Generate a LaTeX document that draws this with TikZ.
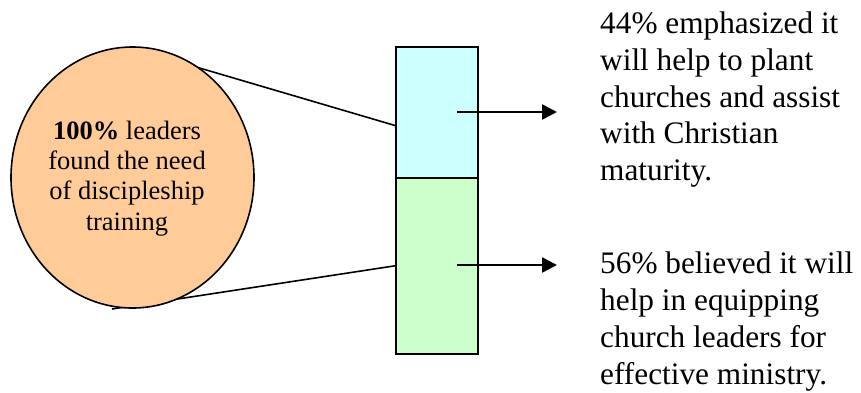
\documentclass[tikz,border=0pt]{standalone}
\usepackage{fontspec}
\setmainfont{Liberation Serif}
\usetikzlibrary{arrows.meta,shapes.geometric}
\definecolor{peach}{HTML}{FFCC99}
\definecolor{lcyan}{HTML}{CCFFFF}
\definecolor{lgreen}{HTML}{CCFFCC}
\tikzset{
  link/.style={draw=black, line width=1.6pt},
  barpart/.style={draw=black, line width=1.6pt, minimum width=82pt, anchor=north west, inner sep=0pt},
  pointer/.style={draw=black, line width=2.4pt, -{Triangle[length=15pt,width=15pt]}},
  sidetext/.style={anchor=base west, align=left, inner sep=0pt, font=\fontsize{31.3}{36.7}\selectfont}
}
\begin{document}
\begin{tikzpicture}[x=1pt,y=-1pt]
\useasboundingbox (0,0) rectangle (861,392);
% bar
\node[barpart, fill=lcyan, minimum height=131pt] (upper) at (395,46) {};
\node[barpart, fill=lgreen, minimum height=176pt] (lower) at (395,177) {};
% connector lines (ellipse drawn over them)
\coordinate (topin) at (170,59.3);
\coordinate (topbar) at (395,125.5);
\coordinate (botin) at (112,309);
\draw[link] (topin) -- (topbar);
\draw[link] (botin) -- (lower.west);
% ellipse
\node[ellipse, draw=black, line width=1.6pt, fill=peach, minimum width=243pt, minimum height=261pt, inner sep=0pt] (circ) at (132.5,177.5) {};
\node[anchor=base, align=center, inner sep=0pt, font=\fontsize{26.5}{30.3}\selectfont] (circtext) at (127,230) {\textbf{100\%} leaders\\found the need\\of discipleship\\training};
% arrows
\coordinate (a1) at (457,112);
\coordinate (a2) at (457,265);
\coordinate (e1) at (557,112);
\coordinate (e2) at (557,265);
\draw[pointer] (a1) -- (e1);
\draw[pointer] (a2) -- (e2);
% texts
\node[sidetext] (t1) at (600,180.5) {44\% emphasized it\\will help to plant\\churches and assist\\with Christian\\maturity.};
\node[sidetext] (t2) at (600,384) {56\% believed it will\\help in equipping\\church leaders for\\effective ministry.};
\end{tikzpicture}
\end{document}
